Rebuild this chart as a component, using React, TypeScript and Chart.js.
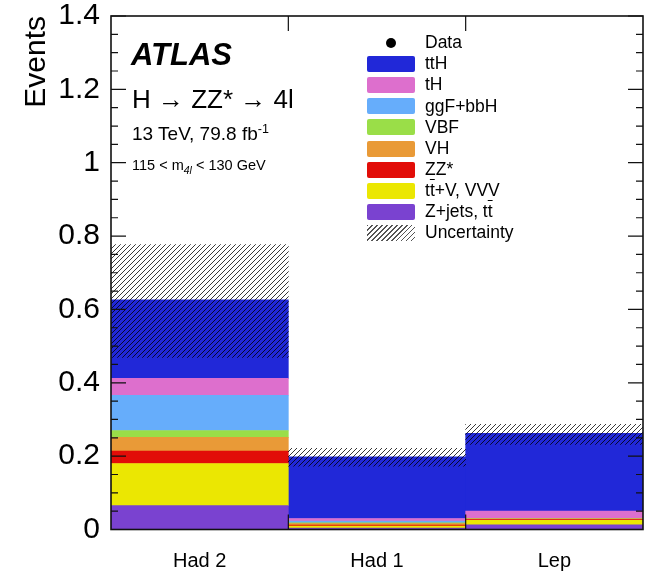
import React, { useEffect, useRef } from 'react';
import { Chart, registerables } from 'chart.js';

Chart.register(...registerables);

const FONT = "'Liberation Sans', Arial, Helvetica, sans-serif";

// ---- data ----
const categories = ['Had 2', 'Had 1', 'Lep'];
const zJets = [0.065, 0.004, 0.013];
const ttV = [0.115, 0.005, 0.012];
const zz = [0.034, 0.003, 0.002];
const vh = [0.037, 0.004, 0.002];
const vbf = [0.019, 0.002, 0.001];
const ggF = [0.096, 0.005, 0.0];
const tH = [0.046, 0.007, 0.02];
const ttH = [0.214, 0.168, 0.212];
const uncLow = [0.469, 0.173, 0.232];
const uncHigh = [0.777, 0.221, 0.287];
const yTicks = [0, 0.2, 0.4, 0.6, 0.8, 1, 1.2, 1.4];
const yMinorStep = 0.05;
const yMin = 0;
const yMax = 1.4;

const COLORS = {
  ttH: '#2128d8',
  tH: '#dd6fcd',
  ggF: '#66adfb',
  vbf: '#9ade48',
  vh: '#e99a37',
  zz: '#e20d08',
  ttV: '#ebe702',
  zJets: '#7a42d0',
};

const TBAR = 't\u0304';

const legendItems = [
  { label: 'Data', kind: 'dot', color: '#000' },
  { label: 'ttH', kind: 'box', color: COLORS.ttH },
  { label: 'tH', kind: 'box', color: COLORS.tH },
  { label: 'ggF+bbH', kind: 'box', color: COLORS.ggF },
  { label: 'VBF', kind: 'box', color: COLORS.vbf },
  { label: 'VH', kind: 'box', color: COLORS.vh },
  { label: 'ZZ*', kind: 'box', color: COLORS.zz },
  { label: 't' + TBAR + '+V, VVV', kind: 'box', color: COLORS.ttV },
  { label: 'Z+jets, t' + TBAR, kind: 'box', color: COLORS.zJets },
  { label: 'Uncertainty', kind: 'hatch', color: '' },
];

function renderLabel(text: string) {
  const parts = text.split(TBAR);
  const out: React.ReactNode[] = [];
  parts.forEach((p, i) => {
    out.push(<React.Fragment key={'p' + i}>{p}</React.Fragment>);
    if (i < parts.length - 1) {
      out.push(
        <span key={'b' + i} style={{ textDecoration: 'overline' }}>
          t
        </span>
      );
    }
  });
  return out;
}

function makeHatch(): CanvasPattern | string {
  const c = document.createElement('canvas');
  c.width = 5;
  c.height = 5;
  const g = c.getContext('2d');
  if (!g) return 'rgba(0,0,0,0.3)';
  g.strokeStyle = 'rgba(0,0,0,0.78)';
  g.lineWidth = 1;
  g.beginPath();
  g.moveTo(-1, 6);
  g.lineTo(6, -1);
  g.moveTo(-1, 1);
  g.lineTo(1, -1);
  g.moveTo(4, 6);
  g.lineTo(6, 4);
  g.stroke();
  return g.createPattern(c, 'repeat') || 'rgba(0,0,0,0.3)';
}

const framePlugin = {
  id: 'atlasFrame',
  afterDatasetsDraw(chart: any) {
    const { ctx, chartArea: a, scales } = chart;
    const y = scales.y;
    const x = scales.x;
    ctx.save();
    ctx.strokeStyle = '#111';
    ctx.lineWidth = 1.2;
    const n = Math.round((yMax - yMin) / yMinorStep);
    for (let k = 0; k <= n; k++) {
      const v = yMin + k * yMinorStep;
      const py = y.getPixelForValue(v);
      const major = yTicks.some((t) => Math.abs(t - v) < 1e-6);
      const len = major ? 15 : 7;
      ctx.beginPath();
      ctx.moveTo(a.left, py);
      ctx.lineTo(a.left + len, py);
      ctx.moveTo(a.right, py);
      ctx.lineTo(a.right - len, py);
      ctx.stroke();
    }
    for (let i = 0; i < categories.length - 1; i++) {
      const px = (x.getPixelForValue(i) + x.getPixelForValue(i + 1)) / 2;
      ctx.beginPath();
      ctx.moveTo(px, a.bottom);
      ctx.lineTo(px, a.bottom - 15);
      ctx.moveTo(px, a.top);
      ctx.lineTo(px, a.top + 15);
      ctx.stroke();
    }
    ctx.lineWidth = 1.6;
    ctx.strokeRect(a.left, a.top, a.right - a.left, a.bottom - a.top);
    ctx.restore();
  },
};

export default function App() {
  const canvasRef = useRef<HTMLCanvasElement | null>(null);

  useEffect(() => {
    const canvas = canvasRef.current;
    if (!canvas) return;
    Chart.defaults.font.family = FONT;
    const hatch = makeHatch();
    const bar = (label: string, data: number[], color: string) => ({
      label,
      data,
      backgroundColor: color,
      borderWidth: 0,
      barPercentage: 1,
      categoryPercentage: 1,
      stack: 'mc',
    });
    const chart = new Chart(canvas, {
      type: 'bar',
      data: {
        labels: categories,
        datasets: [
          bar('Z+jets, tt', zJets, COLORS.zJets),
          bar('tt+V, VVV', ttV, COLORS.ttV),
          bar('ZZ*', zz, COLORS.zz),
          bar('VH', vh, COLORS.vh),
          bar('VBF', vbf, COLORS.vbf),
          bar('ggF+bbH', ggF, COLORS.ggF),
          bar('tH', tH, COLORS.tH),
          bar('ttH', ttH, COLORS.ttH),
          {
            label: 'Uncertainty',
            data: uncLow.map((l, i) => [l, uncHigh[i]]) as any,
            backgroundColor: hatch as any,
            borderWidth: 0,
            barPercentage: 1,
            categoryPercentage: 1,
            stack: 'unc',
            grouped: false,
            order: -1,
          } as any,
        ],
      },
      options: {
        responsive: false,
        animation: false,
        events: [],
        layout: { autoPadding: false, padding: { top: 16, right: 7, left: 0, bottom: 0 } },
        plugins: {
          legend: { display: false },
          tooltip: { enabled: false },
        },
        scales: {
          x: {
            type: 'category',
            stacked: true,
            offset: true,
            grid: { display: false, drawTicks: false },
            border: { display: false },
            ticks: {
              color: '#000',
              font: { size: 20, family: FONT, lineHeight: 1.2 },
              padding: 20,
              maxRotation: 0,
              autoSkip: false,
            },
            afterFit: (s: any) => {
              s.height = 42.5;
              s.paddingLeft = 0;
              s.paddingRight = 0;
              s.paddingTop = 0;
              s.paddingBottom = 0;
            },
          },
          y: {
            stacked: true,
            min: yMin,
            max: yMax,
            grid: { display: false, drawTicks: false },
            border: { display: false },
            afterBuildTicks: (s: any) => {
              s.ticks = yTicks.map((v) => ({ value: v }));
            },
            ticks: {
              color: '#000',
              font: { size: 30, family: FONT, lineHeight: 1 },
              padding: 11,
              callback: (v: any) => String(Math.round(Number(v) * 10) / 10),
            },
            title: {
              display: true,
              text: 'Events',
              align: 'end',
              color: '#000',
              font: { size: 30, family: FONT, lineHeight: 1 },
              padding: { top: 22, bottom: 0 },
            },
            afterFit: (s: any) => {
              s.width = 111;
              s.paddingTop = 0;
              s.paddingBottom = 0;
              s.paddingLeft = 0;
              s.paddingRight = 0;
            },
          },
        },
      } as any,
      plugins: [framePlugin],
    });
    return () => chart.destroy();
  }, []);

  const txt = (extra: React.CSSProperties): React.CSSProperties => ({
    position: 'absolute',
    whiteSpace: 'nowrap',
    lineHeight: 1,
    color: '#000',
    fontFamily: FONT,
    ...extra,
  });

  return (
    <div
      style={{
        position: 'fixed',
        left: 0,
        top: 0,
        width: 650,
        height: 572,
        background: '#fff',
        overflow: 'hidden',
        fontFamily: FONT,
      }}
    >
      <canvas ref={canvasRef} width={650} height={572} style={{ position: 'absolute', left: 0, top: 0 }} />

      <div style={txt({ left: 131, top: 38.8, fontSize: 31, fontWeight: 'bold', fontStyle: 'italic' })}>ATLAS</div>
      <div style={txt({ left: 132, top: 86.3, fontSize: 26 })}>H → ZZ* → 4l</div>
      <div style={txt({ left: 132, top: 124, fontSize: 19 })}>
        13 TeV, 79.8 fb
        <span style={{ position: 'relative', top: -7, fontSize: 12.5 }}>-1</span>
      </div>
      <div style={txt({ left: 132, top: 157.7, fontSize: 14.5 })}>
        115 &lt; m
        <span style={{ position: 'relative', top: 4, fontSize: 10.5, fontStyle: 'italic' }}>4l</span>
        {' '}&lt; 130 GeV
      </div>

      <div style={{ position: 'absolute', left: 367, top: 32.5 }}>
        {legendItems.map((it, i) => (
          <div key={i} style={{ display: 'flex', alignItems: 'center', height: 21.1 }}>
            <div style={{ width: 48, height: 16, display: 'flex', alignItems: 'center', justifyContent: 'center' }}>
              {it.kind === 'dot' && (
                <div style={{ width: 10, height: 10, borderRadius: 5, background: '#000' }} />
              )}
              {it.kind === 'box' && (
                <div style={{ width: 48, height: 16, borderRadius: 2, background: it.color }} />
              )}
              {it.kind === 'hatch' && (
                <div
                  style={{
                    width: 48,
                    height: 16,
                    background:
                      'repeating-linear-gradient(135deg, #555 0px, #555 1px, transparent 1px, transparent 3.5px)',
                  }}
                />
              )}
            </div>
            <div style={{ marginLeft: 10, fontSize: 17.5, lineHeight: 1, whiteSpace: 'nowrap', color: '#000' }}>
              {renderLabel(it.label)}
            </div>
          </div>
        ))}
      </div>
    </div>
  );
}
